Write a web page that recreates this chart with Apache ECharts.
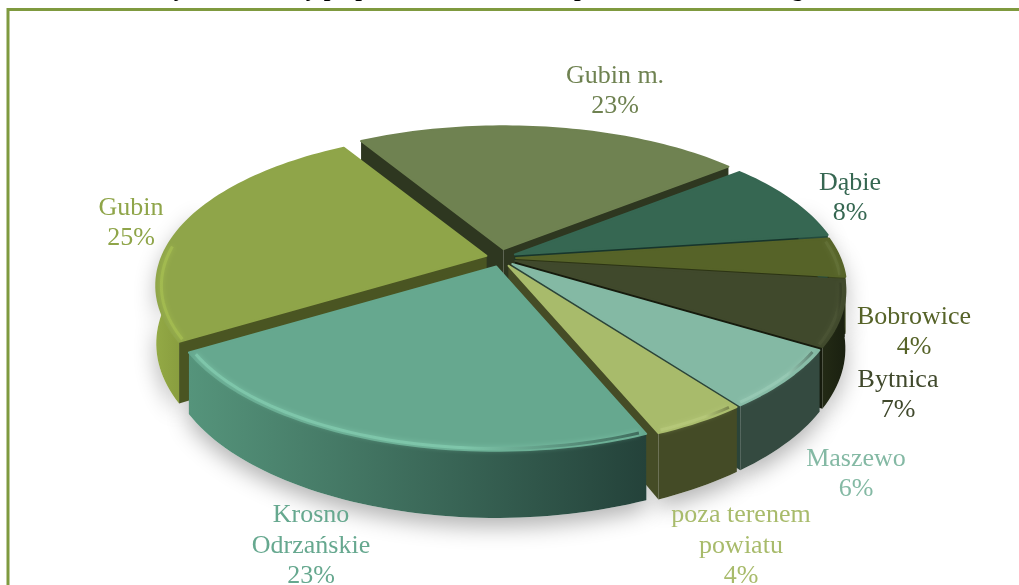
<!DOCTYPE html>
<html><head><meta charset="utf-8">
<style>html,body{margin:0;padding:0;background:#fff;overflow:hidden}#c{width:1019px;height:585px}</style>
<script src="https://cdn.jsdelivr.net/npm/echarts@6/dist/echarts.min.js"></script>
</head><body><div id="c"></div>
<script>
// Data, clockwise from the upper left
const categories = ['Gubin m.', 'Dąbie', 'Bobrowice', 'Bytnica', 'Maszewo', 'poza terenem\npowiatu', 'Krosno\nOdrzańskie', 'Gubin'];
const shares = [23.4, 8.4, 4.0, 6.6, 6.1, 4.0, 22.9, 24.6];
// Styles, same order
const topColors = ['#6f8251', '#366752', '#566328', '#40492c', '#84b9a4', '#a8bb6b', '#66a88f', '#8fa549'];
const wallFrom = ['#4a5732', '#234a3c', '#3a441c', '#232a15', '#344a40', '#444b26', '#55947b', '#93a945'];
const wallTo = ['#4a5732', '#234a3c', '#3a441c', '#1a2010', '#344a40', '#444b26', '#24423a', '#7f9239'];
const radialColors = ['#2e3720', '#17352c', '#2c3414', '#161b0d', '#2b4439', '#454c26', '#2d5447', '#4a5522'];
const rimColors = ['#7f9260', '#447a63', '#66743a', '#4d5636', '#9ccdb8', '#b9cb7d', '#86d0b3', '#a8c152'];
const paintOrder = [0, 7, 1, 2, 3, 4, 6, 5];
const labelAnchors = [[615, 91], [850, 198], [914, 332], [898, 395], [856, 474], [741, 546], [311, 546], [131, 223]];
const titleText = '35.   Procentowy udział firmy po powiatach na terenie powiatu krośnieńskiego';

// View of the tilted disc
const view = { cx: 501, cy: 258, rx: 324, ry: 153.5, k: 0.2, depth: 56, startDeg: -32, burstX: 15, burstY: 9 };
const total = shares.reduce((a, b) => a + b, 0);
let running = view.startDeg;
const spans = shares.map(s => { const a = running; running += s / total * 360; return [a, running]; });

function project(u, v, ox, oy, down) {
  const s = 1 + view.k * v;
  return [ox + view.rx * u * s, oy + view.ry * v * s + (down ? view.depth * s : 0)];
}
function arcPoints(a0, a1, ox, oy, down, radius) {
  const n = Math.max(6, Math.ceil((a1 - a0) / 1.5)), out = [], r = radius || 1;
  for (let i = 0; i <= n; i++) {
    const t = (a0 + (a1 - a0) * i / n) * Math.PI / 180;
    out.push(project(r * Math.sin(t), -r * Math.cos(t), ox, oy, down));
  }
  return out;
}
function renderSlice(params, api) {
  const i = api.value(0), a0 = spans[i][0], a1 = spans[i][1];
  const mid = (a0 + a1) / 2 * Math.PI / 180;
  const ox = view.cx + view.burstX * Math.sin(mid), oy = view.cy - view.burstY * Math.cos(mid);
  const order = paintOrder.indexOf(i);
  const topArc = arcPoints(a0, a1, ox, oy, false), lowArc = arcPoints(a0, a1, ox, oy, true);
  const apexTop = [ox, oy], apexLow = [ox, oy + view.depth];
  const poly = (points, style, z2) => ({ type: 'polygon', shape: { points }, style, z2, silent: true });
  const kids = [
    // radial faces lowest, outer walls next, top faces above all walls
    poly([apexTop, topArc[0], lowArc[0], apexLow], { fill: radialColors[i] }, 10 + order),
    poly([apexTop, topArc[topArc.length - 1], lowArc[lowArc.length - 1], apexLow], { fill: radialColors[i] }, 10 + order),
  ];
  const w0 = Math.max(a0, 70), w1 = Math.min(a1, 290);
  if (w1 > w0) {
    const wTop = arcPoints(w0, w1, ox, oy, false), wLow = arcPoints(w0, w1, ox, oy, true);
    const wallPts = wTop.concat(wLow.slice().reverse());
    const xs = wallPts.map(p => p[0]), x0 = Math.min(...xs), x1 = Math.max(...xs);
    kids.push(poly(wallPts, { fill: '#fff', shadowColor: 'rgba(0,0,0,0.3)', shadowBlur: 22, shadowOffsetY: 9 }, 1));
    kids.push(poly(wallPts, { fill: new echarts.graphic.LinearGradient(x0, 0, x1, 0, [
      { offset: 0, color: wallFrom[i] }, { offset: 1, color: wallTo[i] }], true) }, 30 + order));
    // Soft bevel just inside the rim of the top face
    const r0 = Math.max(a0 + 0.8, 82), r1 = Math.min(a1 - 0.8, 274);
    if (r1 > r0) {
      const rim = arcPoints(r0, r1, ox, oy + 1, false, 0.985);
      kids.push({ type: 'polyline', shape: { points: rim }, silent: true, z2: 70 + order,
        style: { fill: 'none', lineWidth: 3, opacity: 0.65, shadowColor: rimColors[i], shadowBlur: 5,
          stroke: new echarts.graphic.LinearGradient(x0, 0, x1, 0, [
            { offset: 0, color: rimColors[i] }, { offset: 0.6, color: rimColors[i] }, { offset: 1, color: wallTo[i] }], true) } });
    }
  }
  kids.push(poly([apexTop].concat(topArc), { fill: topColors[i], stroke: topColors[i], lineWidth: 2, lineJoin: 'round' }, 50 + order));
  const label = categories[i] + '\n' + Math.round(shares[i]) + '%';
  kids.push({ type: 'text', silent: true, z2: 500, x: labelAnchors[i][0], y: labelAnchors[i][1],
    style: { text: label, fill: topColors[i], font: '26px "Liberation Serif"', lineHeight: 30.5, align: 'center', verticalAlign: 'middle' } });
  return { type: 'group', children: kids };
}

const chart = echarts.init(document.getElementById('c'), null, { renderer: 'canvas' });
chart.setOption({
  animation: false,
  backgroundColor: '#fff',
  graphic: [
    { type: 'rect', z: 0, silent: true, shape: { x: 8, y: 9.5, width: 1100, height: 700 },
      style: { fill: 'none', stroke: '#7f9a3f', lineWidth: 3 } },
    { type: 'text', z: 0, silent: true, x: 17, y: 2,
      style: { text: titleText, fill: '#000', font: 'bold 24px "Liberation Serif"', verticalAlign: 'bottom' } }
  ],
  xAxis: { show: false, type: 'value' },
  yAxis: { show: false, type: 'value' },
  grid: { left: 0, right: 0, top: 0, bottom: 0 },
  series: [{
    type: 'custom',
    coordinateSystem: 'none',
    renderItem: renderSlice,
    data: categories.map((c, i) => ({ name: c, value: [i, shares[i]] }))
  }]
});
</script></body></html>
